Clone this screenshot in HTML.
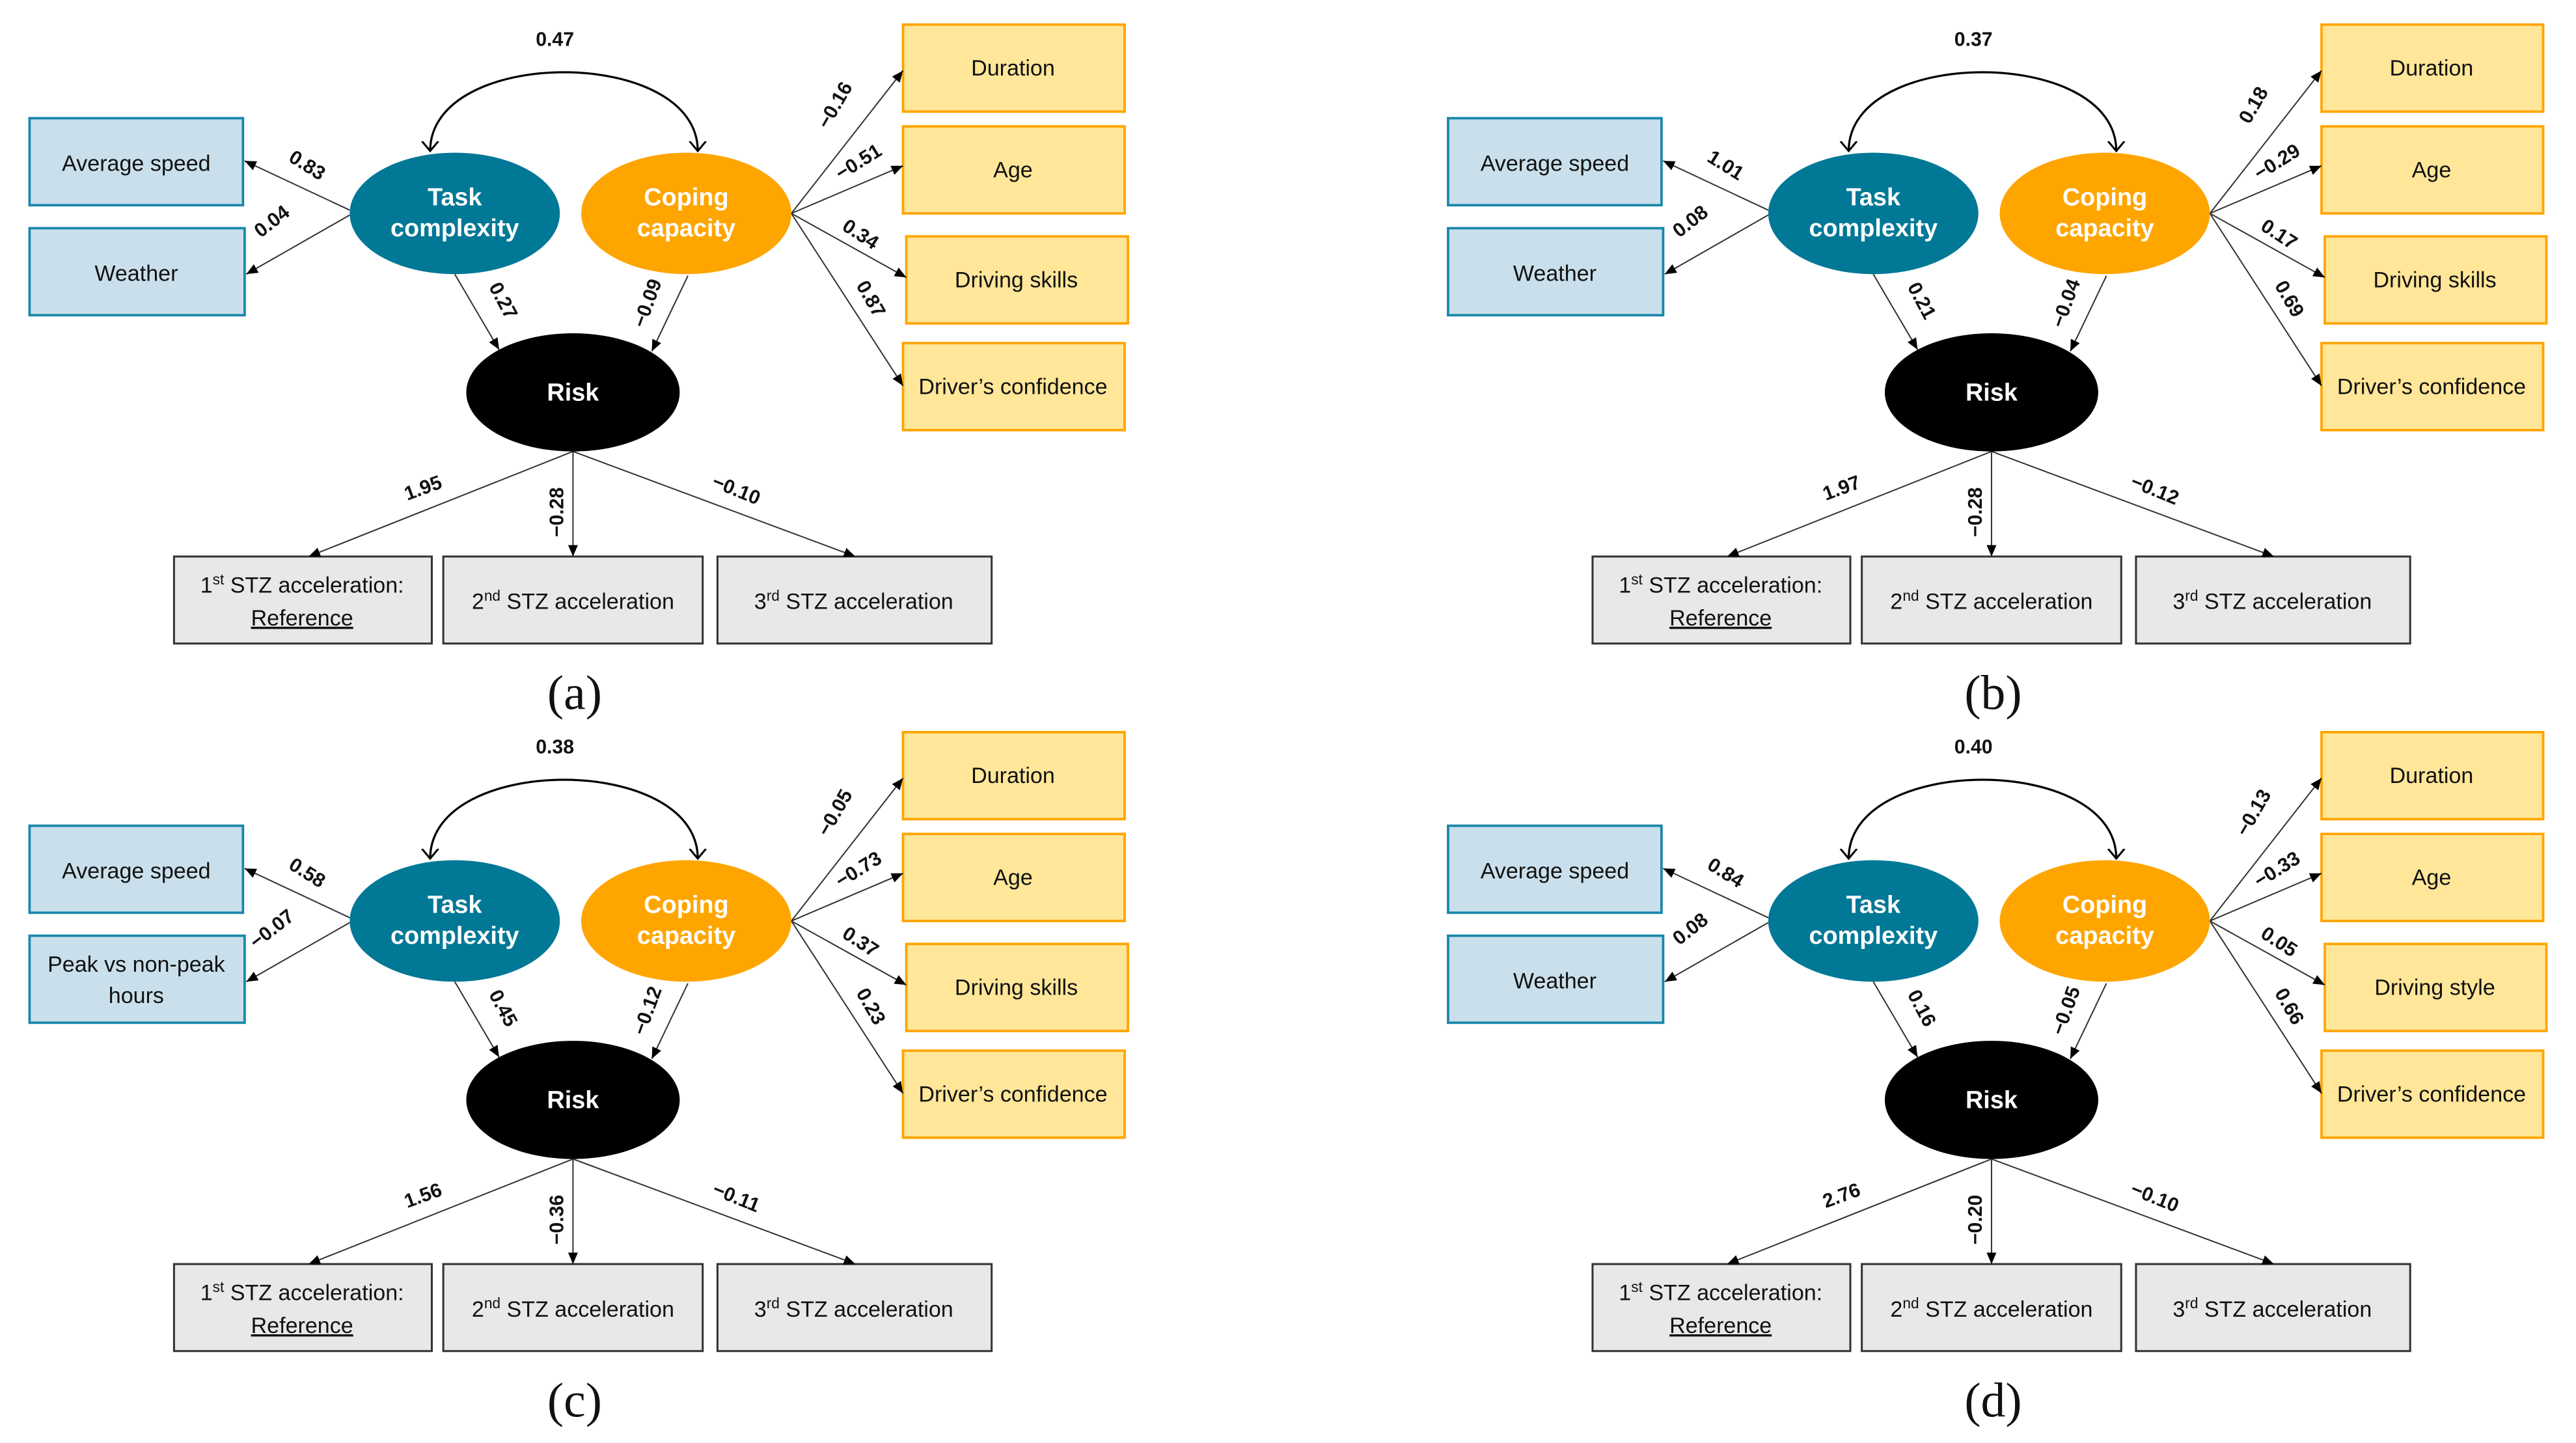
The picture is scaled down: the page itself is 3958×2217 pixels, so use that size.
<!DOCTYPE html>
<html><head><meta charset="utf-8"><style>
html,body{margin:0;padding:0;background:#fff;}
svg{display:block;}
text{font-family:"Liberation Sans Narrow","Liberation Sans",sans-serif;}
.bx{font-size:13.5px;fill:#111;text-anchor:middle;}
.el{font-size:15px;font-weight:bold;fill:#fff;text-anchor:middle;}
.lb{font-size:12px;font-weight:bold;fill:#111;text-anchor:middle;}
.cap{font-family:"Liberation Serif",serif;font-size:30px;text-anchor:middle;fill:#111;}
.ln{stroke:#333;stroke-width:0.8;fill:none;marker-end:url(#ah);}
.arc{fill:none;stroke:#000;stroke-width:1.3;marker-end:url(#oh);marker-start:url(#oh);}
.blue{fill:#c9e0ec;stroke:#1a87ab;stroke-width:1.5;}
.yel{fill:#ffe699;stroke:#ffa500;stroke-width:1.5;}
.gry{fill:#e8e8e8;stroke:#333;stroke-width:1.2;}
</style></head><body>
<svg width="3958" height="2217" viewBox="0 0 1569 879" preserveAspectRatio="none" xmlns="http://www.w3.org/2000/svg">
<defs>
<marker id="ah" markerWidth="8" markerHeight="8" refX="7" refY="3" orient="auto" markerUnits="userSpaceOnUse"><path d="M0,0 L7,3 L0,6 z" fill="#000"/></marker>
<marker id="oh" markerWidth="12" markerHeight="12" refX="6" refY="6" orient="auto-start-reverse" markerUnits="userSpaceOnUse"><path d="M0,1 L6,6 L0,11" fill="none" stroke="#000" stroke-width="1.2"/></marker>
</defs>

<!-- Panel a -->
<g transform="translate(0,0)">
<path class="arc" d="M262,92 C262,28 425,28 425,92"/>
<rect class="blue" x="18" y="72" width="130" height="53"/><text class="bx" x="83" y="104">Average speed</text>
<rect class="blue" x="18" y="139" width="131" height="53"/><text class="bx" x="83" y="171">Weather</text>
<rect class="yel" x="550" y="15" width="135" height="53"/><text class="bx" x="617" y="46">Duration</text>
<rect class="yel" x="550" y="77" width="135" height="53"/><text class="bx" x="617" y="108">Age</text>
<rect class="yel" x="552" y="144" width="135" height="53"/><text class="bx" x="619" y="175">Driving skills</text>
<rect class="yel" x="550" y="209" width="135" height="53"/><text class="bx" x="617" y="240">Driver’s confidence</text>
<rect class="gry" x="106" y="339" width="157" height="53"/><text class="bx" x="184" y="361">1<tspan font-size="9" dy="-5">st</tspan><tspan dy="5"> STZ acceleration:</tspan></text><text class="bx" x="184" y="381" text-decoration="underline">Reference</text>
<rect class="gry" x="270" y="339" width="158" height="53"/><text class="bx" x="349" y="371">2<tspan font-size="9" dy="-5">nd</tspan><tspan dy="5"> STZ acceleration</tspan></text>
<rect class="gry" x="437" y="339" width="167" height="53"/><text class="bx" x="520" y="371">3<tspan font-size="9" dy="-5">rd</tspan><tspan dy="5"> STZ acceleration</tspan></text>
<line class="ln" x1="213" y1="128" x2="149" y2="98"/><line class="ln" x1="213" y1="131" x2="150" y2="167"/>
<line class="ln" x1="482" y1="130" x2="550" y2="43"/><line class="ln" x1="482" y1="130" x2="550" y2="101"/>
<line class="ln" x1="482" y1="130" x2="552" y2="169"/><line class="ln" x1="482" y1="130" x2="550" y2="235"/>
<line class="ln" x1="277" y1="167" x2="304" y2="213"/><line class="ln" x1="419" y1="168" x2="397" y2="214"/>
<line class="ln" x1="349" y1="275" x2="188" y2="339"/><line class="ln" x1="349" y1="275" x2="349" y2="339"/><line class="ln" x1="349" y1="275" x2="521" y2="339"/>
<ellipse cx="277" cy="130" rx="64" ry="37" fill="#007896"/><text class="el" x="277" y="125">Task</text><text class="el" x="277" y="144">complexity</text>
<ellipse cx="418" cy="130" rx="64" ry="37" fill="#ffa500"/><text class="el" x="418" y="125">Coping</text><text class="el" x="418" y="144">capacity</text>
<ellipse cx="349" cy="239" rx="65" ry="36" fill="#000"/><text class="el" x="349" y="244">Risk</text>
<text class="lb" x="338" y="28">0.47</text>
<text class="lb" transform="translate(185,104) rotate(32)">0.83</text>
<text class="lb" transform="translate(168,138) rotate(-38)">0.04</text>
<text class="lb" transform="translate(303,185) rotate(62)">0.27</text>
<text class="lb" transform="translate(398,186) rotate(-70)">−0.09</text>
<text class="lb" transform="translate(512,66) rotate(-60)">−0.16</text>
<text class="lb" transform="translate(525,102) rotate(-32)">−0.51</text>
<text class="lb" transform="translate(522,146) rotate(33)">0.34</text>
<text class="lb" transform="translate(527,184) rotate(60)">0.87</text>
<text class="lb" transform="translate(259,301) rotate(-20)">1.95</text>
<text class="lb" transform="translate(343,312) rotate(-90)">−0.28</text>
<text class="lb" transform="translate(447,302) rotate(22)">−0.10</text>
<text class="cap" x="350" y="432">(a)</text>
</g>

<!-- Panel b -->
<g transform="translate(864,0)">
<path class="arc" d="M262,92 C262,28 425,28 425,92"/>
<rect class="blue" x="18" y="72" width="130" height="53"/><text class="bx" x="83" y="104">Average speed</text>
<rect class="blue" x="18" y="139" width="131" height="53"/><text class="bx" x="83" y="171">Weather</text>
<rect class="yel" x="550" y="15" width="135" height="53"/><text class="bx" x="617" y="46">Duration</text>
<rect class="yel" x="550" y="77" width="135" height="53"/><text class="bx" x="617" y="108">Age</text>
<rect class="yel" x="552" y="144" width="135" height="53"/><text class="bx" x="619" y="175">Driving skills</text>
<rect class="yel" x="550" y="209" width="135" height="53"/><text class="bx" x="617" y="240">Driver’s confidence</text>
<rect class="gry" x="106" y="339" width="157" height="53"/><text class="bx" x="184" y="361">1<tspan font-size="9" dy="-5">st</tspan><tspan dy="5"> STZ acceleration:</tspan></text><text class="bx" x="184" y="381" text-decoration="underline">Reference</text>
<rect class="gry" x="270" y="339" width="158" height="53"/><text class="bx" x="349" y="371">2<tspan font-size="9" dy="-5">nd</tspan><tspan dy="5"> STZ acceleration</tspan></text>
<rect class="gry" x="437" y="339" width="167" height="53"/><text class="bx" x="520" y="371">3<tspan font-size="9" dy="-5">rd</tspan><tspan dy="5"> STZ acceleration</tspan></text>
<line class="ln" x1="213" y1="128" x2="149" y2="98"/><line class="ln" x1="213" y1="131" x2="150" y2="167"/>
<line class="ln" x1="482" y1="130" x2="550" y2="43"/><line class="ln" x1="482" y1="130" x2="550" y2="101"/>
<line class="ln" x1="482" y1="130" x2="552" y2="169"/><line class="ln" x1="482" y1="130" x2="550" y2="235"/>
<line class="ln" x1="277" y1="167" x2="304" y2="213"/><line class="ln" x1="419" y1="168" x2="397" y2="214"/>
<line class="ln" x1="349" y1="275" x2="188" y2="339"/><line class="ln" x1="349" y1="275" x2="349" y2="339"/><line class="ln" x1="349" y1="275" x2="521" y2="339"/>
<ellipse cx="277" cy="130" rx="64" ry="37" fill="#007896"/><text class="el" x="277" y="125">Task</text><text class="el" x="277" y="144">complexity</text>
<ellipse cx="418" cy="130" rx="64" ry="37" fill="#ffa500"/><text class="el" x="418" y="125">Coping</text><text class="el" x="418" y="144">capacity</text>
<ellipse cx="349" cy="239" rx="65" ry="36" fill="#000"/><text class="el" x="349" y="244">Risk</text>
<text class="lb" x="338" y="28">0.37</text>
<text class="lb" transform="translate(185,104) rotate(32)">1.01</text>
<text class="lb" transform="translate(168,138) rotate(-38)">0.08</text>
<text class="lb" transform="translate(303,185) rotate(62)">0.21</text>
<text class="lb" transform="translate(398,186) rotate(-70)">−0.04</text>
<text class="lb" transform="translate(512,66) rotate(-60)">0.18</text>
<text class="lb" transform="translate(525,102) rotate(-32)">−0.29</text>
<text class="lb" transform="translate(522,146) rotate(33)">0.17</text>
<text class="lb" transform="translate(527,184) rotate(60)">0.69</text>
<text class="lb" transform="translate(259,301) rotate(-20)">1.97</text>
<text class="lb" transform="translate(343,312) rotate(-90)">−0.28</text>
<text class="lb" transform="translate(447,302) rotate(22)">−0.12</text>
<text class="cap" x="350" y="432">(b)</text>
</g>

<!-- Panel c -->
<g transform="translate(0,431)">
<path class="arc" d="M262,92 C262,28 425,28 425,92"/>
<rect class="blue" x="18" y="72" width="130" height="53"/><text class="bx" x="83" y="104">Average speed</text>
<rect class="blue" x="18" y="139" width="131" height="53"/><text class="bx" x="83" y="161">Peak vs non-peak</text><text class="bx" x="83" y="180">hours</text>
<rect class="yel" x="550" y="15" width="135" height="53"/><text class="bx" x="617" y="46">Duration</text>
<rect class="yel" x="550" y="77" width="135" height="53"/><text class="bx" x="617" y="108">Age</text>
<rect class="yel" x="552" y="144" width="135" height="53"/><text class="bx" x="619" y="175">Driving skills</text>
<rect class="yel" x="550" y="209" width="135" height="53"/><text class="bx" x="617" y="240">Driver’s confidence</text>
<rect class="gry" x="106" y="339" width="157" height="53"/><text class="bx" x="184" y="361">1<tspan font-size="9" dy="-5">st</tspan><tspan dy="5"> STZ acceleration:</tspan></text><text class="bx" x="184" y="381" text-decoration="underline">Reference</text>
<rect class="gry" x="270" y="339" width="158" height="53"/><text class="bx" x="349" y="371">2<tspan font-size="9" dy="-5">nd</tspan><tspan dy="5"> STZ acceleration</tspan></text>
<rect class="gry" x="437" y="339" width="167" height="53"/><text class="bx" x="520" y="371">3<tspan font-size="9" dy="-5">rd</tspan><tspan dy="5"> STZ acceleration</tspan></text>
<line class="ln" x1="213" y1="128" x2="149" y2="98"/><line class="ln" x1="213" y1="131" x2="150" y2="167"/>
<line class="ln" x1="482" y1="130" x2="550" y2="43"/><line class="ln" x1="482" y1="130" x2="550" y2="101"/>
<line class="ln" x1="482" y1="130" x2="552" y2="169"/><line class="ln" x1="482" y1="130" x2="550" y2="235"/>
<line class="ln" x1="277" y1="167" x2="304" y2="213"/><line class="ln" x1="419" y1="168" x2="397" y2="214"/>
<line class="ln" x1="349" y1="275" x2="188" y2="339"/><line class="ln" x1="349" y1="275" x2="349" y2="339"/><line class="ln" x1="349" y1="275" x2="521" y2="339"/>
<ellipse cx="277" cy="130" rx="64" ry="37" fill="#007896"/><text class="el" x="277" y="125">Task</text><text class="el" x="277" y="144">complexity</text>
<ellipse cx="418" cy="130" rx="64" ry="37" fill="#ffa500"/><text class="el" x="418" y="125">Coping</text><text class="el" x="418" y="144">capacity</text>
<ellipse cx="349" cy="239" rx="65" ry="36" fill="#000"/><text class="el" x="349" y="244">Risk</text>
<text class="lb" x="338" y="28">0.38</text>
<text class="lb" transform="translate(185,104) rotate(32)">0.58</text>
<text class="lb" transform="translate(168,138) rotate(-38)">−0.07</text>
<text class="lb" transform="translate(303,185) rotate(62)">0.45</text>
<text class="lb" transform="translate(398,186) rotate(-70)">−0.12</text>
<text class="lb" transform="translate(512,66) rotate(-60)">−0.05</text>
<text class="lb" transform="translate(525,102) rotate(-32)">−0.73</text>
<text class="lb" transform="translate(522,146) rotate(33)">0.37</text>
<text class="lb" transform="translate(527,184) rotate(60)">0.23</text>
<text class="lb" transform="translate(259,301) rotate(-20)">1.56</text>
<text class="lb" transform="translate(343,312) rotate(-90)">−0.36</text>
<text class="lb" transform="translate(447,302) rotate(22)">−0.11</text>
<text class="cap" x="350" y="432">(c)</text>
</g>

<!-- Panel d -->
<g transform="translate(864,431)">
<path class="arc" d="M262,92 C262,28 425,28 425,92"/>
<rect class="blue" x="18" y="72" width="130" height="53"/><text class="bx" x="83" y="104">Average speed</text>
<rect class="blue" x="18" y="139" width="131" height="53"/><text class="bx" x="83" y="171">Weather</text>
<rect class="yel" x="550" y="15" width="135" height="53"/><text class="bx" x="617" y="46">Duration</text>
<rect class="yel" x="550" y="77" width="135" height="53"/><text class="bx" x="617" y="108">Age</text>
<rect class="yel" x="552" y="144" width="135" height="53"/><text class="bx" x="619" y="175">Driving style</text>
<rect class="yel" x="550" y="209" width="135" height="53"/><text class="bx" x="617" y="240">Driver’s confidence</text>
<rect class="gry" x="106" y="339" width="157" height="53"/><text class="bx" x="184" y="361">1<tspan font-size="9" dy="-5">st</tspan><tspan dy="5"> STZ acceleration:</tspan></text><text class="bx" x="184" y="381" text-decoration="underline">Reference</text>
<rect class="gry" x="270" y="339" width="158" height="53"/><text class="bx" x="349" y="371">2<tspan font-size="9" dy="-5">nd</tspan><tspan dy="5"> STZ acceleration</tspan></text>
<rect class="gry" x="437" y="339" width="167" height="53"/><text class="bx" x="520" y="371">3<tspan font-size="9" dy="-5">rd</tspan><tspan dy="5"> STZ acceleration</tspan></text>
<line class="ln" x1="213" y1="128" x2="149" y2="98"/><line class="ln" x1="213" y1="131" x2="150" y2="167"/>
<line class="ln" x1="482" y1="130" x2="550" y2="43"/><line class="ln" x1="482" y1="130" x2="550" y2="101"/>
<line class="ln" x1="482" y1="130" x2="552" y2="169"/><line class="ln" x1="482" y1="130" x2="550" y2="235"/>
<line class="ln" x1="277" y1="167" x2="304" y2="213"/><line class="ln" x1="419" y1="168" x2="397" y2="214"/>
<line class="ln" x1="349" y1="275" x2="188" y2="339"/><line class="ln" x1="349" y1="275" x2="349" y2="339"/><line class="ln" x1="349" y1="275" x2="521" y2="339"/>
<ellipse cx="277" cy="130" rx="64" ry="37" fill="#007896"/><text class="el" x="277" y="125">Task</text><text class="el" x="277" y="144">complexity</text>
<ellipse cx="418" cy="130" rx="64" ry="37" fill="#ffa500"/><text class="el" x="418" y="125">Coping</text><text class="el" x="418" y="144">capacity</text>
<ellipse cx="349" cy="239" rx="65" ry="36" fill="#000"/><text class="el" x="349" y="244">Risk</text>
<text class="lb" x="338" y="28">0.40</text>
<text class="lb" transform="translate(185,104) rotate(32)">0.84</text>
<text class="lb" transform="translate(168,138) rotate(-38)">0.08</text>
<text class="lb" transform="translate(303,185) rotate(62)">0.16</text>
<text class="lb" transform="translate(398,186) rotate(-70)">−0.05</text>
<text class="lb" transform="translate(512,66) rotate(-60)">−0.13</text>
<text class="lb" transform="translate(525,102) rotate(-32)">−0.33</text>
<text class="lb" transform="translate(522,146) rotate(33)">0.05</text>
<text class="lb" transform="translate(527,184) rotate(60)">0.66</text>
<text class="lb" transform="translate(259,301) rotate(-20)">2.76</text>
<text class="lb" transform="translate(343,312) rotate(-90)">−0.20</text>
<text class="lb" transform="translate(447,302) rotate(22)">−0.10</text>
<text class="cap" x="350" y="432">(d)</text>
</g>
</svg>
</body></html>
